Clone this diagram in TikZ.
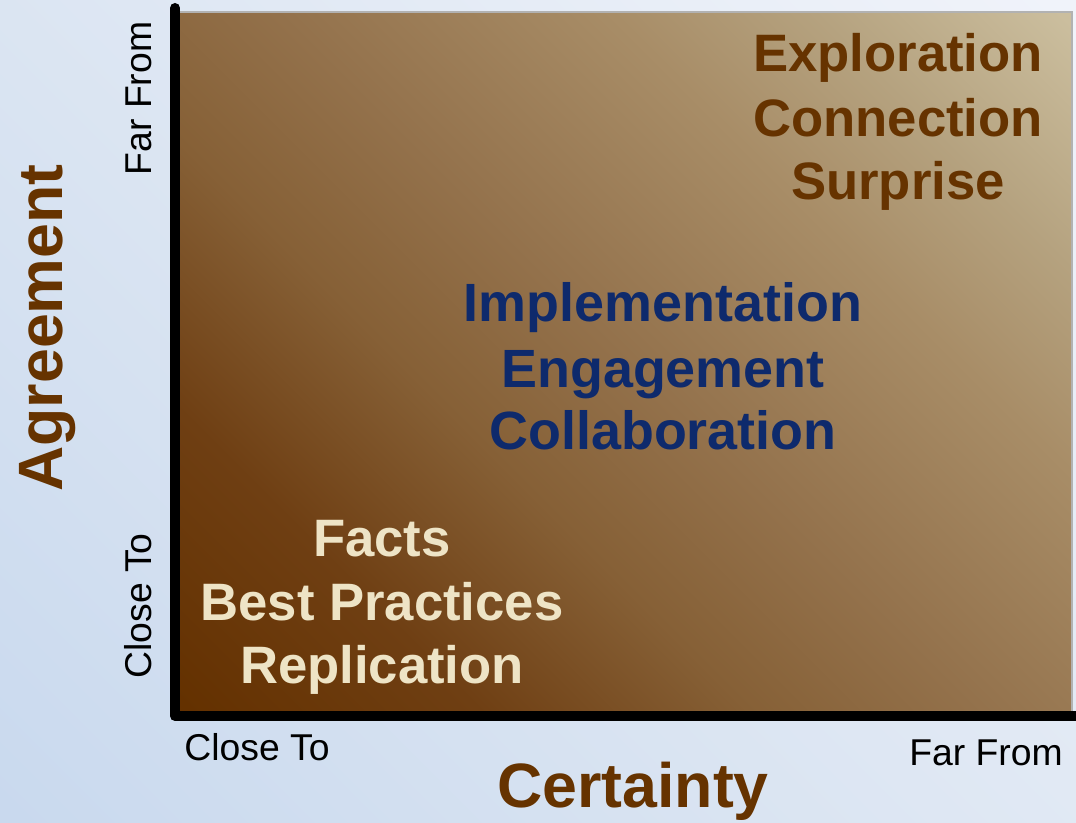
\documentclass[tikz,border=0pt]{standalone}
\usepackage{fontspec}
\setmainfont{Liberation Sans}
\definecolor{bgA}{HTML}{C9D9EE}
\definecolor{bgB}{HTML}{DEE7F3}
\definecolor{bgC}{HTML}{F0F3FA}
\definecolor{brA}{HTML}{643100}
\definecolor{brB}{HTML}{6F3F13}
\definecolor{brC}{HTML}{866036}
\definecolor{brD}{HTML}{93714B}
\definecolor{brE}{HTML}{A88D67}
\definecolor{brF}{HTML}{B5A27F}
\definecolor{brG}{HTML}{CBBE9E}
\definecolor{txtbrown}{HTML}{663300}
\definecolor{txtcream}{HTML}{EEE4C6}
\definecolor{txtblue}{HTML}{0E2A6C}
\pgfdeclarehorizontalshading{bgsh}{100bp}{color(0bp)=(bgA); color(15bp)=(bgA); color(50bp)=(bgB); color(85bp)=(bgC); color(100bp)=(bgC)}
\pgfdeclarehorizontalshading{brownsh}{100bp}{color(0bp)=(brA); color(15bp)=(brA); color(28bp)=(brB); color(40bp)=(brC); color(50bp)=(brD); color(65bp)=(brE); color(74bp)=(brF); color(85bp)=(brG); color(100bp)=(brG)}
\begin{document}
\begin{tikzpicture}[x=0.75pt,y=-0.75pt,
  blocktext/.style={font=\fontsize{39.5}{48}\selectfont\bfseries, inner sep=0pt, anchor=base},
  bluetext/.style={font=\fontsize{40.4}{48}\selectfont\bfseries, inner sep=0pt, anchor=base, text=txtblue},
  axistitle/.style={font=\fontsize{47}{56}\selectfont\bfseries, text=txtbrown, inner sep=0pt, anchor=base},
  axislabel/.style={font=\fontsize{28}{34}\selectfont, text=black, inner sep=0pt, anchor=base},
  axisline/.style={line width=7.5pt, line cap=round, line join=round, black}]
\useasboundingbox (0,0) rectangle (1076,823);
\shade[shading=bgsh, shading angle=45] (0,0) rectangle (1076,823);
\shade[shading=brownsh, shading angle=45] (178,12) rectangle (1072,713);
\draw[line width=0.8pt, color=black!30] (178,12) -- (1072,12) -- (1072,713);
\coordinate (ytop) at (175,8);
\coordinate (origin) at (175,716);
\coordinate (xend) at (1080,716);
\draw[axisline] (ytop) -- (origin) -- (xend);
% axis titles
\node[axistitle, rotate=90] (agree) at (62,328) {Agreement};
\node[axistitle] (cert) at (633,807) {Certainty};
% axis labels
\node[axislabel, rotate=90] (yfar) at (151,98.5) {Far From};
\node[axislabel, rotate=90] (yclose) at (151,606) {Close To};
\node[axislabel] (xclose) at (257,760) {Close To};
\node[axislabel] (xfar) at (986,765) {Far From};
% top right block
\node[blocktext, text=txtbrown] (e1) at (898,72) {Exploration};
\node[blocktext, text=txtbrown] (e2) at (898,137) {Connection};
\node[blocktext, text=txtbrown] (e3) at (898,200) {Surprise};
% middle block
\node[bluetext] (m1) at (663,322) {Implementation};
\node[bluetext] (m2) at (663,388) {Engagement};
\node[bluetext] (m3) at (663,450) {Collaboration};
% bottom left block
\node[blocktext, text=txtcream] (f1) at (382,557) {Facts};
\node[blocktext, text=txtcream] (f2) at (382,621) {Best Practices};
\node[blocktext, text=txtcream] (f3) at (382,684) {Replication};
\end{tikzpicture}
\end{document}
